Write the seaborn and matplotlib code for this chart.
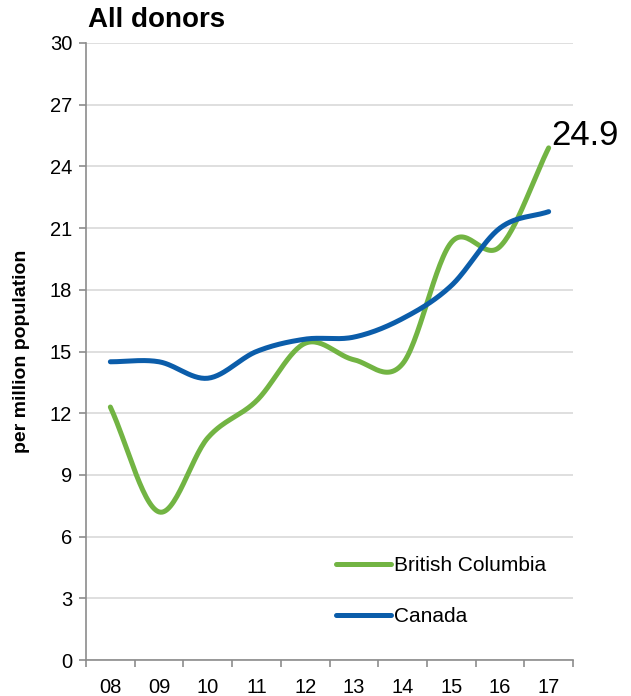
"""
All donors per million population, British Columbia vs Canada
"""
import numpy as np
import pandas as pd
import seaborn as sns
import matplotlib
matplotlib.use('Agg')
import matplotlib.pyplot as plt
from matplotlib.ticker import FixedLocator, NullFormatter
from matplotlib.lines import Line2D

# Datos
anios = ['08', '09', '10', '11', '12', '13', '14', '15', '16', '17']
bc = [12.3, 7.2, 10.8, 12.6, 15.4, 14.6, 14.4, 20.3, 20.1, 24.9]
canada = [14.5, 14.5, 13.7, 15.0, 15.6, 15.7, 16.6, 18.2, 21.0, 21.8]

COLOR_BC = '#72B443'
COLOR_CA = '#0B5DAA'


def suavizar(y, n=30):
    """Curva Catmull-Rom entre los puntos (similar a la linea suavizada de Excel)"""
    y = np.asarray(y, dtype=float)
    p = np.concatenate([[2 * y[0] - y[1]], y, [2 * y[-1] - y[-2]]])
    xs, ys = [], []
    for i in range(len(y) - 1):
        p0, p1, p2, p3 = p[i], p[i + 1], p[i + 2], p[i + 3]
        t = np.linspace(0, 1, n, endpoint=(i == len(y) - 2))
        yy = 0.5 * ((2 * p1) + (-p0 + p2) * t + (2 * p0 - 5 * p1 + 4 * p2 - p3) * t ** 2
                    + (-p0 + 3 * p1 - 3 * p2 + p3) * t ** 3)
        xs.append(i + t)
        ys.append(yy)
    return np.concatenate(xs), np.concatenate(ys)


sns.set_style('white')
plt.rcParams['font.family'] = ['Liberation Sans', 'DejaVu Sans']
plt.rcParams['text.color'] = 'black'
plt.rcParams['xtick.color'] = 'black'
plt.rcParams['ytick.color'] = 'black'
plt.rcParams['axes.labelcolor'] = 'black'

filas = []
for nombre, serie in [('British Columbia', bc), ('Canada', canada)]:
    xs, ys = suavizar(serie)
    filas.append(pd.DataFrame({'x': xs, 'valor': ys, 'serie': nombre}))
df = pd.concat(filas, ignore_index=True)

fig = plt.figure(figsize=(6.31, 6.96), dpi=100)
ax = fig.add_axes([86 / 631, 36 / 696, 487 / 631, 617 / 696])

sns.lineplot(data=df, x='x', y='valor', hue='serie', sort=False,
             palette={'British Columbia': COLOR_BC, 'Canada': COLOR_CA},
             linewidth=3.6, ax=ax, legend=False)
for line in ax.get_lines():
    line.set_solid_capstyle('round')

ax.set_xlim(-0.5, 9.5)
ax.set_ylim(0, 30)
ax.set_yticks(np.arange(0, 31, 3))
ax.yaxis.grid(True, color='#D9D9D9', linewidth=1.2)
ax.xaxis.grid(False)

ax.xaxis.set_major_locator(FixedLocator(np.arange(-0.5, 10, 1)))
ax.xaxis.set_major_formatter(NullFormatter())
ax.xaxis.set_minor_locator(FixedLocator(np.arange(10)))
ax.set_xticklabels(anios, minor=True)
ax.tick_params(axis='x', which='major', length=5, width=1.2, color='#8C8C8C', direction='out', bottom=True)
ax.tick_params(axis='x', which='minor', length=0, labelsize=14.5, pad=13, bottom=True)
ax.tick_params(axis='y', length=5, width=1.2, color='#8C8C8C', direction='out', labelsize=14.5, pad=5, left=True)

sns.despine(ax=ax)
for s in ['left', 'bottom']:
    ax.spines[s].set_color('#8C8C8C')
    ax.spines[s].set_linewidth(1.2)

ax.set_xlabel('')
ax.set_ylabel('per million population', fontsize=14, fontweight='bold', labelpad=14)

fig.text(88 / 631, 1 - 20 / 696, 'All donors', fontsize=20, fontweight='bold', va='center', ha='left')
ax.annotate(f'{bc[-1]}', xy=(9, bc[-1]), xytext=(2, 9), textcoords='offset points',
            fontsize=25, ha='left', va='center')

# Leyenda manual
handles = [Line2D([], [], color=COLOR_BC, linewidth=3.6, solid_capstyle='round'),
           Line2D([], [], color=COLOR_CA, linewidth=3.6, solid_capstyle='round')]
fig.legend(handles, ['British Columbia', 'Canada'], loc='upper left',
           bbox_to_anchor=(336 / 631, 1 - 556 / 696), frameon=False, fontsize=15,
           handlelength=2.65, handletextpad=0.15, labelspacing=1.55, borderpad=0, borderaxespad=0)

plt.savefig('out.png', dpi=100)
